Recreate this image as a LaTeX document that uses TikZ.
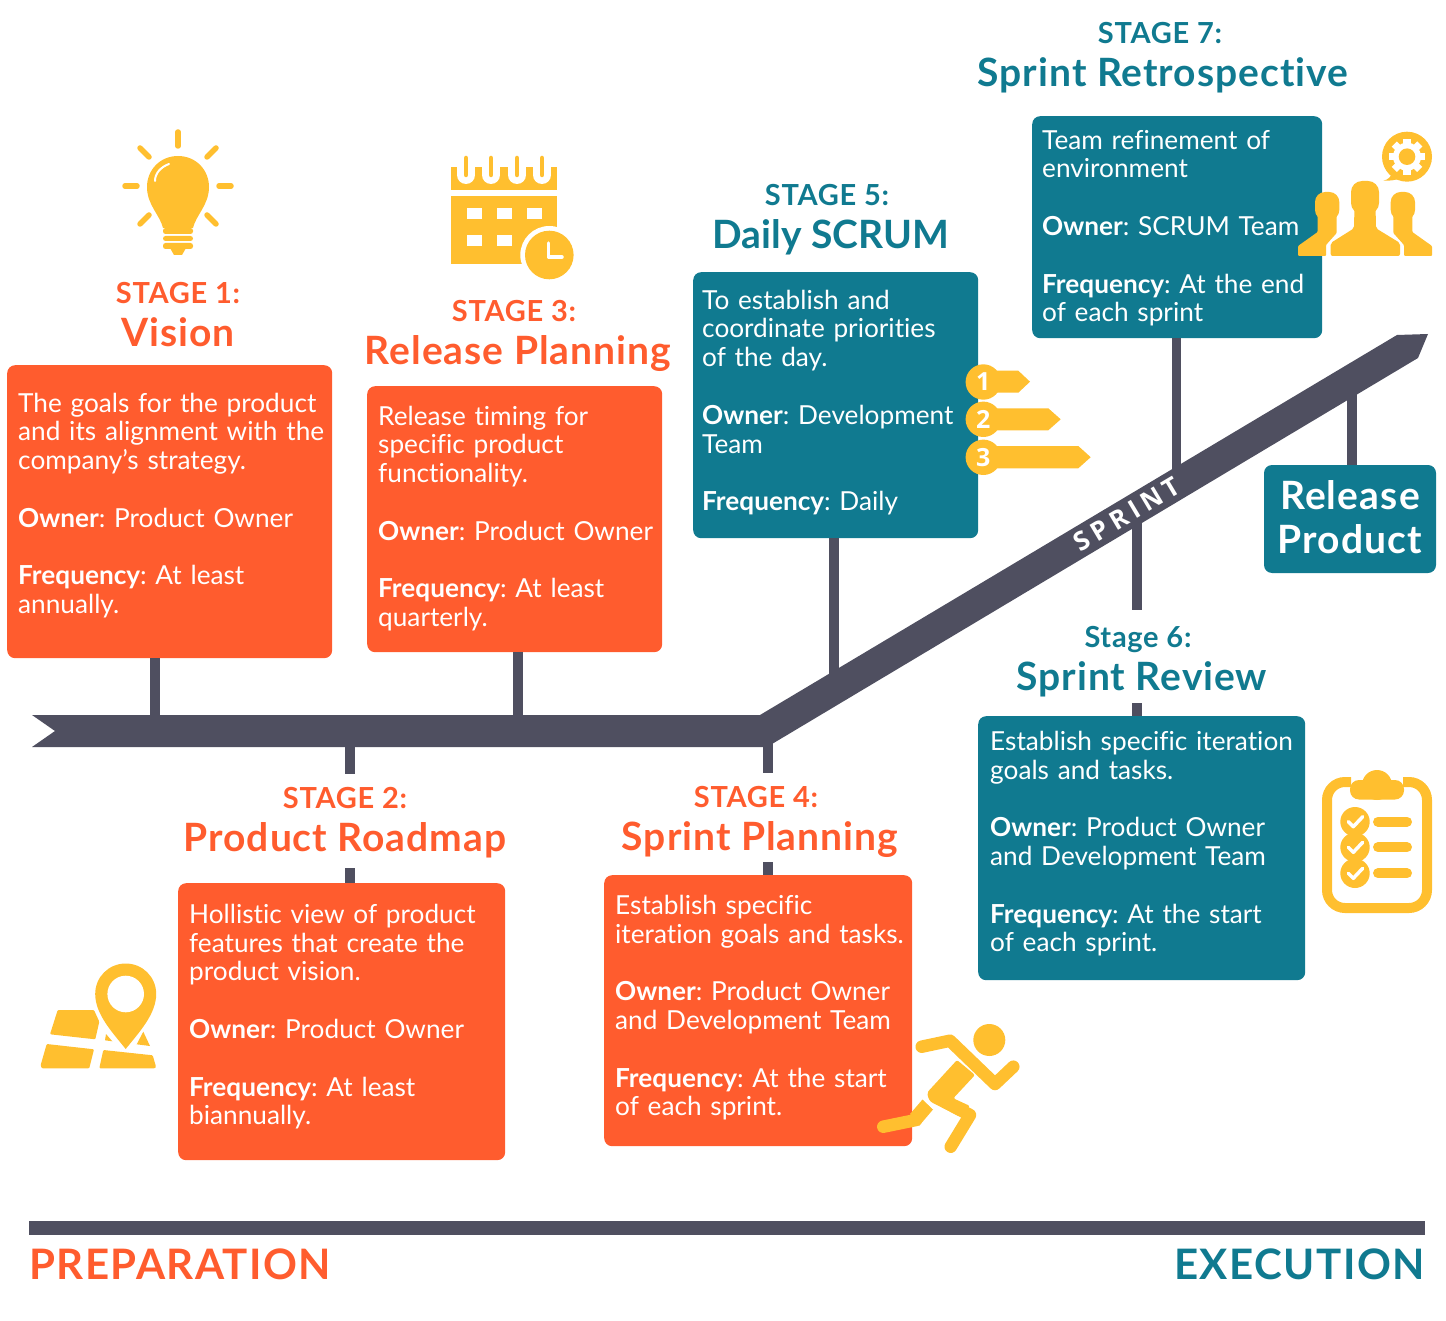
\documentclass[tikz,border=0pt]{standalone}
\usepackage{fontspec}
\setmainfont{Lato}[Ligatures=NoCommon]
\newfontfamily\badgefont{Open Sans}
\usepackage{xcolor}
\usetikzlibrary{calc}
\definecolor{prepred}{RGB}{255,92,46}
\definecolor{exectal}{RGB}{16,122,144}
\definecolor{spineink}{RGB}{79,79,96}
\definecolor{iconamb}{RGB}{255,191,47}
\newcommand{\blank}{\\[28.8pt]}
\newcommand{\stagetag}[2][0pt]{{\fontsize{29}{43}\selectfont\bfseries #2\hspace*{#1}}}
\frenchspacing

\begin{document}
\begin{tikzpicture}[
  x=1pt, y=-1pt,
  card/.style={anchor=north west, rounded corners=8pt, inner xsep=6pt, inner ysep=0pt, align=left,
               text=white, font=\fontsize{26.2}{28.8}\selectfont,
               execute at begin node={\leftskip=5pt\relax}},
  redcard/.style={card, fill=prepred},
  tealcard/.style={card, fill=exectal},
  head/.style={anchor=north, inner sep=0pt, align=center, text height=77pt, text depth=0pt,
               font=\fontsize{39}{43}\selectfont\bfseries\addfontfeature{LetterSpace=2.5}},
  stem/.style={line width=9.6pt, spineink},
  icon/.style={fill=iconamb, draw=none},
  ray/.style={line width=5.5pt, iconamb, line cap=round},
  badge/.style={circle, fill=iconamb, inner sep=0pt, minimum size=35.4pt, text=white,
                font=\badgefont\fontsize{25}{28}\selectfont\bfseries},
  tab/.style={fill=iconamb, draw=none},
  phase/.style={inner sep=0pt, font=\fontsize{42}{44}\selectfont\bfseries\addfontfeature{LetterSpace=3.5}}
]
\useasboundingbox (0,0) rectangle (1446,1321);
% ---- spine ----
\fill[spineink] (32,715) -- (760,715) -- (1397,335) -- (1428,334) -- (1418,358) -- (767,747)
  -- (32,747) -- (55,731) -- cycle;
\coordinate (j1) at (155,725);
\coordinate (j2) at (350,740);
\coordinate (j3) at (518,725);
\coordinate (j4) at (768,740);
\coordinate (j5) at (834,680);
\coordinate (j6) at (1137,520);
\coordinate (j7) at (1176.5,475);
\coordinate (jr) at (1352,390);
% ---- preparation cards ----
\node[redcard, text width=313pt, text height=47pt, text depth=246pt] (s1) at (7,365)
  {The goals for the product\\and its alignment with the\\company's strategy.\blank
   \textbf{Owner}: Product Owner\blank\textbf{Frequency}: At least\\annually.};
\node[head, text=prepred] (h1) at (178,269) {\stagetag{STAGE 1:}\\Vision};
\node[redcard, text width=283pt, text height=39pt, text depth=227pt] (s3) at (367,386)
  {Release timing for\\specific product\\functionality.\blank
   \textbf{Owner}: Product Owner\blank\textbf{Frequency}: At least\\quarterly.};
\node[head, text=prepred] (h3) at (518,287) {\stagetag[8pt]{STAGE 3:}\\Release Planning};
\node[redcard, text width=315pt, text height=40pt, text depth=237pt] (s2) at (178,883)
  {Hollistic view of product\\features that create the\\product vision.\blank
   \textbf{Owner}: Product Owner\blank\textbf{Frequency}: At least\\biannually.};
\node[head, text=prepred, text depth=17pt] (h2) at (345,774) {\stagetag{STAGE 2:}\\Product Roadmap};
\node[redcard, text width=296pt, text height=39pt, text depth=232pt] (s4) at (604,875)
  {Establish specific\\iteration goals and tasks.\blank
   \textbf{Owner}: Product Owner\\and Development Team\blank
   \textbf{Frequency}: At the start\\of each sprint.};
\node[head, text=prepred, text depth=12pt] (h4) at (760,773) {\stagetag[8pt]{STAGE 4:}\\Sprint Planning};
% ---- execution cards ----
\node[tealcard, text width=277pt, inner xsep=4pt, text height=37pt, text depth=229pt] (s5) at (693,272)
  {To establish and\\coordinate priorities\\of the day.\blank
   \textbf{Owner}: Development\\Team\blank\textbf{Frequency}: Daily};
\node[head, text=exectal] (h5) at (831,171) {\stagetag[8pt]{STAGE 5:}\\\addfontfeature{LetterSpace=0}Daily SCRUM};
\node[tealcard, text width=313pt, inner xsep=7pt, text height=34pt, text depth=230pt] (s6) at (978,716)
  {Establish specific iteration\\goals and tasks.\blank
   \textbf{Owner}: Product Owner\\and Development Team\blank
   \textbf{Frequency}: At the start\\of each sprint.};
\node[head, text=exectal, text height=80pt, text depth=13pt] (h6) at (1142,610) {\stagetag[8pt]{Stage 6:}\\Sprint Review};
\node[tealcard, text width=280pt, inner xsep=5pt, text height=33pt, text depth=189pt] (s7) at (1032,116)
  {Team refinement of\\environment\blank
   \textbf{Owner}: SCRUM Team\blank\textbf{Frequency}: At the end\\of each sprint};
\node[head, text=exectal] (h7) at (1163,9) {\stagetag[6pt]{STAGE 7:}\\Sprint Retrospective};
\node[fill=exectal, rounded corners=8pt, minimum width=172pt, inner sep=0pt, text height=88pt, text depth=20pt,
      align=center, text=white, font=\fontsize{39}{44}\selectfont\bfseries\addfontfeature{LetterSpace=3}] (rel) at (1350,519)
  {Release\\Product};
% ---- stems ----
\draw[stem] (s1.south -| j1) -- (j1);
\draw[stem] (s3.south -| j3) -- (j3);
\draw[stem] (s5.south -| j5) -- (j5);
\draw[stem] (s7.south -| j7) -- (j7);
\draw[stem] (rel.north -| jr) -- (jr);
\draw[stem] (j2) -- (h2.north -| j2);
\draw[stem] (h2.south -| j2) -- (s2.north -| j2);
\draw[stem] (j4) -- (h4.north -| j4);
\draw[stem] (h4.south -| j4) -- (s4.north -| j4);
\draw[stem] (j6) -- (h6.north -| j6);
\draw[stem] (h6.south -| j6) -- (s6.north -| j6);
\node[rotate=30.8, inner sep=0pt, text=white, font=\badgefont\fontsize{26}{26}\selectfont\bfseries\addfontfeature{LetterSpace=20}] (sprint) at (1127,514) {SPRINT};
% ---- bulb ----
\foreach \a/\b/\c/\d in {178/132/178/146, 140/148/149/157, 216/148/207/157, 125/186/137/186,
                         219/186/231/186, 149/215/140/224, 207/215/216/224}
  \draw[ray] (\a,\b) -- (\c,\d);
\fill[icon] (163,228) .. controls (160,215) and (147,205) .. (147,187)
  .. controls (147,170) and (160,156) .. (178,156) .. controls (196,156) and (209,170) .. (209,187)
  .. controls (209,205) and (196,215) .. (193,228) -- cycle;
\fill[icon, rounded corners=2.5pt] (163,228) rectangle (193,234);
\fill[icon, rounded corners=2.5pt] (163,236) rectangle (193,241);
\fill[icon, rounded corners=2.5pt] (163,243) rectangle (193,249);
\fill[icon] (170,248) -- (186,248) -- (182,255) -- (174,255) -- cycle;
\draw[white, line width=2pt, line cap=round] (155,181) .. controls (155,173) and (161,167) .. (169,164);
% ---- calendar ----
\fill[icon] (451,167) rectangle (557,190);
\fill[icon] (451,196) rectangle (557,264);
\foreach \x in {466,491,517,542} {
  \draw[white, line width=18pt, line cap=round] (\x,160) -- (\x,175);
  \draw[iconamb, line width=4.5pt, line cap=round] (\x,158) -- (\x,175);
}
\foreach \x/\y in {467/208,497/208,527/208,467/235,497/235}
  \fill[white] (\x,\y) rectangle ++(14.5,11);
\fill[white] (549.3,255) circle (29);
\fill[icon] (549.3,255) circle (24.3);
\draw[white, line width=3.5pt, line cap=round, line join=round] (548.5,243) -- (548.5,257) -- (562,257);
% ---- map ----
\fill[icon, rounded corners=1pt] (57.7,1010) -- (94,1010) -- (99.3,1021.7) -- (95.3,1039.3) -- (50,1034.3) -- cycle;
\fill[icon, rounded corners=1pt] (46.7,1044) -- (94,1049.3) -- (89.3,1068.3) -- (41.7,1068.3) -- (40.7,1065) -- cycle;
\fill[icon, rounded corners=1pt] (103.3,1050) -- (152.7,1055.3) -- (156,1066.7) -- (155,1068.3) -- (99.3,1068.3) -- cycle;
\fill[icon] (106,1034) -- (112.3,1041.3) -- (105,1040.3) -- cycle;
\fill[icon] (143.3,1031.7) -- (150,1046) -- (136.7,1044.3) -- cycle;
\fill[icon] (125.7,1049) .. controls (112,1032) and (95.2,1014) .. (95.2,994)
  .. controls (95.2,977) and (108.7,963.5) .. (125.7,963.5) .. controls (142.7,963.5) and (156.2,977) .. (156.2,994)
  .. controls (156.2,1014) and (139.4,1032) .. (125.7,1049) -- cycle;
\fill[white] (125.7,994) circle (18.3);
% ---- runner ----
\fill[iconamb] (989.3,1040) circle (16);
\fill[icon] (910,1114) -- (922.5,1099.5) -- (933,1109.5) -- (919,1126) -- cycle;
\draw[iconamb, line width=12.5pt, line cap=round] (883.3,1126.7) -- (916,1120);
\draw[white, line width=3pt] (921,1095) -- (934,1108);
\draw[iconamb, line width=12.5pt, line cap=round, line join=round] (921.7,1046.7) -- (950,1040.7) -- (995,1084) -- (1013.3,1066.7);
\fill[icon, rounded corners=2pt] (957,1060) -- (927,1092.7) -- (929,1100) -- (960,1117) -- (970,1106) -- (953.3,1098.3) -- (975,1075) -- cycle;
\draw[iconamb, line width=12.5pt, line cap=round, line join=round] (935,1097) -- (970,1115) -- (950.7,1146.7);
% ---- clipboard ----
\draw[iconamb, line width=10pt, rounded corners=18pt] (1351,782) -- (1327,782) -- (1327,908) -- (1427,908) -- (1427,782) -- (1403,782);
\fill[icon, rounded corners=9pt] (1350,780) rectangle (1404,799.5);
\fill[icon] (1377,785) circle (15);
\foreach \y in {821.7,847.3,873.3} {
  \fill[icon] (1355,\y) circle (14.7);
  \draw[white, line width=3.5pt, line cap=round, line join=round] ($(1355,\y)+(-6.7,0)$) -- ($(1355,\y)+(-1.7,5)$) -- ($(1355,\y)+(7.7,-5)$);
  \draw[iconamb, line width=10pt, line cap=round] (1378,\y) -- (1407,\y);
}
% ---- team ----
\fill[icon] (1407,156.7) circle (25);
\fill[icon] (1392,172) .. controls (1392,176) and (1388,180) .. (1383.3,180.7) .. controls (1390,181) and (1396,180) .. (1402,178) -- cycle;
\fill[white] (1407,156.7) circle (14);
\foreach \ang in {0,45,...,315}
  \fill[white, shift={(1407,156.7)}, rotate=\ang] (12,-3.6) rectangle (18,3.6);
\fill[icon] (1407,156.7) circle (8.3);
\fill[icon, rounded corners=11pt] (1351,181) rectangle (1379,214);
\fill[icon, rounded corners=2pt] (1354.5,205) -- (1375.5,205) -- (1376,228.3) -- (1400,243) -- (1400,256) -- (1330.7,256) -- (1330.7,243) -- (1354,228.3) -- cycle;
\fill[icon, rounded corners=10pt] (1315,192) rectangle (1339.3,220);
\fill[icon, rounded corners=1pt] (1317.7,212) -- (1336.7,212) -- (1336.7,233) -- (1326,245) -- (1326,256) -- (1298,256) -- (1298,246) -- (1317.7,232) -- cycle;
\fill[icon, rounded corners=10pt] (1390.7,192) rectangle (1415,220);
\fill[icon, rounded corners=1pt] (1393.3,212) -- (1412.3,212) -- (1412.3,232) -- (1432,246) -- (1432,256) -- (1404,256) -- (1404,245) -- (1393.3,233) -- cycle;
% ---- numbered tabs ----
\fill[tab] (983,370.7) -- (1018.3,370.7) -- (1030,381.7) -- (1018.3,392.7) -- (983,392.7) -- cycle;
\fill[tab] (983,408.3) -- (1048.3,408.3) -- (1060.7,419.3) -- (1048.3,430.3) -- (983,430.3) -- cycle;
\fill[tab] (983,446) -- (1078.3,446) -- (1090.7,457.2) -- (1078.3,468.3) -- (983,468.3) -- cycle;
\node[badge] (b1) at (983.3,382) {1};
\node[badge] (b2) at (983.3,419.3) {2};
\node[badge] (b3) at (983.3,457.3) {3};
% ---- bottom bar ----
\fill[spineink] (29,1221) rectangle (1425,1235);
\node[phase, anchor=base west, text=prepred] (prep) at (29,1279) {PREPARATION};
\node[phase, anchor=base east, text=exectal] (exec) at (1425,1279) {EXECUTION};
\end{tikzpicture}
\end{document}
